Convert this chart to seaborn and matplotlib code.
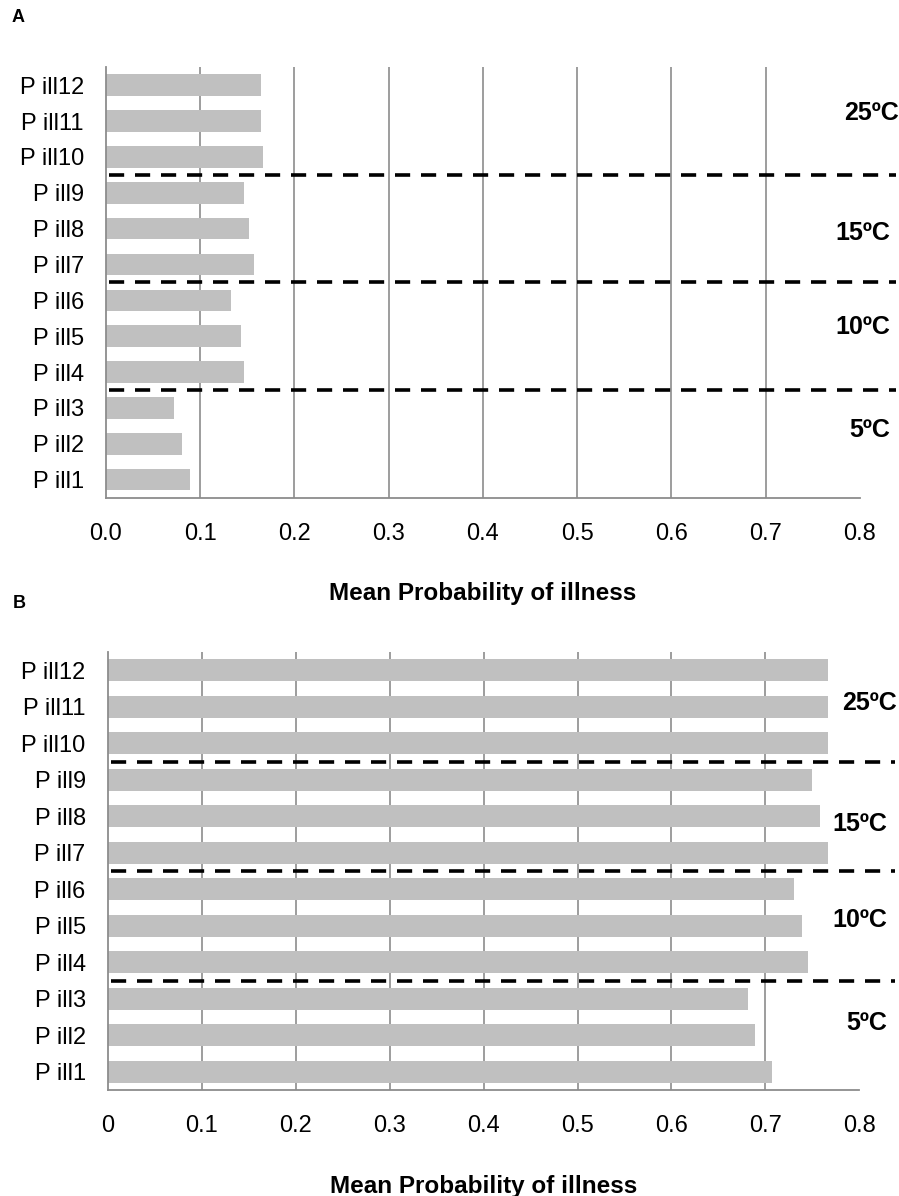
import pandas as pd
import matplotlib.pyplot as plt
import seaborn as sns

sns.set_style("white")
plt.rcParams['font.family'] = ['Liberation Sans', 'DejaVu Sans']
plt.rcParams['text.color'] = 'black'
plt.rcParams['axes.labelcolor'] = 'black'
plt.rcParams['xtick.labelcolor'] = 'black'
plt.rcParams['ytick.labelcolor'] = 'black'

# data (P ill1 .. P ill12)
categories = ["P ill1", "P ill2", "P ill3", "P ill4", "P ill5", "P ill6",
              "P ill7", "P ill8", "P ill9", "P ill10", "P ill11", "P ill12"]
prob_a = [0.089, 0.081, 0.072, 0.146, 0.143, 0.133,
          0.157, 0.152, 0.146, 0.167, 0.165, 0.165]
prob_b = [0.707, 0.689, 0.681, 0.745, 0.739, 0.731,
          0.767, 0.758, 0.750, 0.767, 0.767, 0.767]
temp_labels = ["25ºC", "15ºC", "10ºC", "5ºC"]
ticks = [0, 0.1, 0.2, 0.3, 0.4, 0.5, 0.6, 0.7, 0.8]
ticklabels_a = ["0.0", "0.1", "0.2", "0.3", "0.4", "0.5", "0.6", "0.7", "0.8"]
ticklabels_b = ["0", "0.1", "0.2", "0.3", "0.4", "0.5", "0.6", "0.7", "0.8"]

order = categories[::-1]  # top to bottom
grey = "#8c8c8c"

fig = plt.figure(figsize=(8.99, 11.96), dpi=100)
ax_a = fig.add_axes([0.1179, 0.5839, 0.8783, 0.3599])
ax_b = fig.add_axes([0.1201, 0.0886, 0.8754, 0.3662])


def draw_panel(ax, values, ticklabels, label_y, label_x):
    df = pd.DataFrame({"cat": categories, "p": values})
    sns.barplot(data=df, x="p", y="cat", order=order, orient="h", ax=ax,
                color="#c0c0c0", saturation=1, width=0.6, edgecolor="none",
                zorder=2)
    ax.set_xlim(0, 0.838)
    ax.set_ylim(11.5, -0.5)

    # spines
    for s in ["top", "right"]:
        ax.spines[s].set_visible(False)
    for s in ["left", "bottom"]:
        ax.spines[s].set_color(grey)
        ax.spines[s].set_linewidth(1.3)
    ax.spines["bottom"].set_bounds(0, 0.8)

    # x axis
    ax.set_xticks(ticks)
    ax.set_xticklabels(ticklabels, fontsize=17)
    ax.tick_params(axis="x", direction="out", length=5, width=1.3,
                   color=grey, pad=13)
    ax.grid(axis="x", color=grey, linewidth=1.2, zorder=0)
    ax.set_axisbelow(True)
    ax.xaxis.get_gridlines()[0].set_visible(False)
    ax.xaxis.get_gridlines()[-1].set_visible(False)
    ax.set_xlabel("Mean Probability of illness", fontsize=17.5,
                  fontweight="bold", labelpad=27)
    ax.xaxis.label.set_x(0.4 / 0.838)

    # y axis: labels at centres, tick marks at boundaries
    ax.set_ylabel("")
    ax.set_yticks(range(12))
    ax.set_yticklabels(order, fontsize=17)
    ax.set_yticks([i - 0.5 for i in range(13)], minor=True)
    ax.tick_params(axis="y", which="major", length=0, pad=16)
    ax.tick_params(axis="y", which="minor", direction="out", length=5.5,
                   width=1.3, color=grey)

    # group separators
    for yb in [2.5, 5.5, 8.5]:
        ax.axhline(yb, xmin=0.004, color="black", linewidth=2.6,
                   linestyle=(0, (4.2, 3.0)), zorder=3, clip_on=False)

    for lab, ly, lx in zip(temp_labels, label_y, label_x):
        ax.text(lx, ly, lab, ha="right", va="center", fontsize=18,
                fontweight="bold", clip_on=False)


draw_panel(ax_a, prob_a, ticklabels_a,
           [0.77, 4.12, 6.74, 9.61], [0.842, 0.832, 0.832, 0.832])
draw_panel(ax_b, prob_b, ticklabels_b,
           [0.90, 4.21, 6.84, 9.66], [0.840, 0.830, 0.830, 0.830])

fig.text(18 / 899, 1 - 18 / 1196, "A", fontsize=13, fontweight="bold",
         ha="center", va="center")
fig.text(19 / 899, 1 - 603 / 1196, "B", fontsize=13, fontweight="bold",
         ha="center", va="center")

fig.savefig("out.png", dpi=100)
